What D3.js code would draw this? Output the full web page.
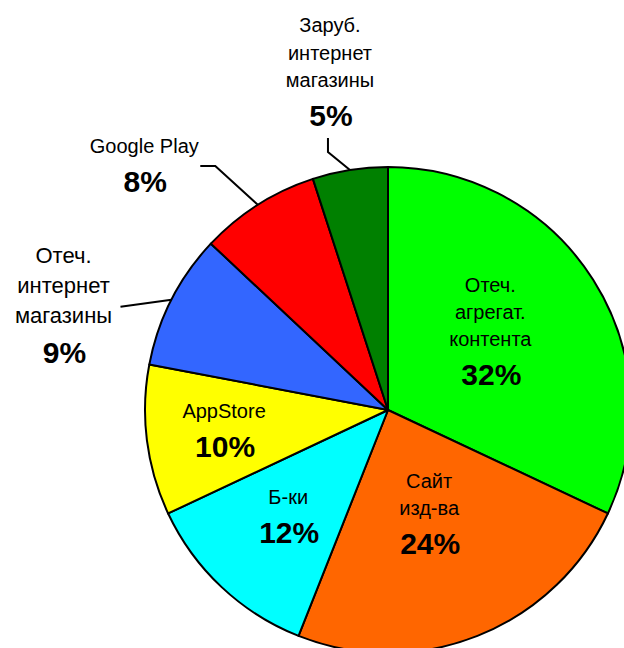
<!DOCTYPE html>
<html>
<head>
<meta charset="utf-8">
<title>Каналы продаж</title>
<script src="https://d3js.org/d3.v7.min.js"></script>
<style>
body { margin: 0; background: #fff; }
.name { font-family: "Liberation Sans", Arial, sans-serif; font-size: 20px; text-anchor: middle; fill: #000; }
.pct { font-family: "Liberation Sans", Arial, sans-serif; font-size: 30px; font-weight: bold; text-anchor: middle; fill: #000; }
</style>
</head>
<body>
<svg id="chart" width="624" height="648"></svg>
<script>

var categories = ["Отеч. агрегат. контента", "Сайт изд-ва", "Б-ки", "AppStore",
                  "Отеч. интернет магазины", "Google Play", "Заруб. интернет магазины"];
var nameLines = [["Отеч.", "агрегат.", "контента"], ["Сайт", "изд-ва"], ["Б-ки"], ["AppStore"],
                 ["Отеч.", "интернет", "магазины"], ["Google Play"], ["Заруб.", "интернет", "магазины"]];
var shares = [32, 24, 12, 10, 9, 8, 5];
var colors = ["#00ff00", "#ff6600", "#00ffff", "#ffff00", "#3366ff", "#ff0000", "#008000"];

var svg = d3.select("#chart"),
    cx = 388, cy = 410, radius = 243;

var g = svg.append("g").attr("transform", "translate(" + cx + "," + cy + ")");

var data = categories.map(function(c, i) {
  return { name: c, lines: nameLines[i], value: shares[i], color: colors[i] };
});

var pie = d3.pie().sort(null).value(function(d) { return d.value; });
var arc = d3.arc().innerRadius(0).outerRadius(radius);
var arcs = pie(data);

g.selectAll("path.slice")
  .data(arcs)
  .enter().append("path")
    .attr("class", "slice")
    .attr("d", arc)
    .style("fill", function(d) { return d.data.color; })
    .style("stroke", "#000")
    .style("stroke-width", 2)
    .style("stroke-linejoin", "round");

function polar(a, r) { return [Math.sin(a) * r, -Math.cos(a) * r]; }
var deg = Math.PI / 180;

// label placement (inside: radius factor + angle nudge; outside: leader elbow + tail)
var inside = {
  "Отеч. агрегат. контента": { k: 0.53, da: -5 },
  "Сайт изд-ва": { k: 0.46, da: 0 },
  "Б-ки": { k: 0.60, da: 0 },
  "AppStore": { k: 0.68, da: 0 }
};
var outside = {
  "Отеч. интернет магазины": { ea: 291.1, ek: 1.18, tail: [0, 0], tx: -57, ty: 56, size: 22, lh: 30 },
  "Google Play": { ea: 324.7, ek: 1.23, tail: [-15, 0], tx: -56, ty: 26, size: 20, lh: 27 },
  "Заруб. интернет магазины": { ea: 346.9, ek: 1.09, tail: [0, -14], tx: 2, ty: -12, size: 20, lh: 27.5 }
};

arcs.forEach(function(d) {
  var mid = (d.startAngle + d.endAngle) / 2;
  var lines = d.data.lines;
  var pctText = d.data.value + "%";
  var text, firstBase, x;

  if (inside[d.data.name]) {
    var o = inside[d.data.name];
    var p = polar(mid + o.da * deg, radius * o.k);
    var lh = 27, gap = 39;
    var h = 14 + (lines.length - 1) * lh + gap;
    firstBase = p[1] - h / 2 + 14;
    x = p[0];
    text = g.append("text");
    lines.forEach(function(l, i) {
      text.append("tspan").attr("class", "name")
        .attr("x", x).attr("y", firstBase + i * lh).text(l);
    });
    text.append("tspan").attr("class", "pct")
      .attr("x", x + 1).attr("y", firstBase + (lines.length - 1) * lh + gap).text(pctText);
  } else {
    var s = outside[d.data.name];
    var edge = polar(mid, radius);
    var elbow = polar(s.ea * deg, radius * s.ek);
    var end = [elbow[0] + s.tail[0], elbow[1] + s.tail[1]];
    g.append("polyline")
      .attr("points", [edge, elbow, end].map(function(q) { return q.join(","); }).join(" "))
      .style("fill", "none")
      .style("stroke", "#000")
      .style("stroke-width", 2);
    x = end[0] + s.tx;
    var pctBase = end[1] + s.ty;
    var gap2 = s.size === 22 ? 40 : 39;
    firstBase = pctBase - gap2 - (lines.length - 1) * s.lh;
    text = g.append("text");
    lines.forEach(function(l, i) {
      text.append("tspan").attr("class", "name").style("font-size", s.size + "px")
        .attr("x", x).attr("y", firstBase + i * s.lh).text(l);
    });
    text.append("tspan").attr("class", "pct")
      .attr("x", x + 1).attr("y", pctBase).text(pctText);
  }
});

</script>
</body>
</html>
